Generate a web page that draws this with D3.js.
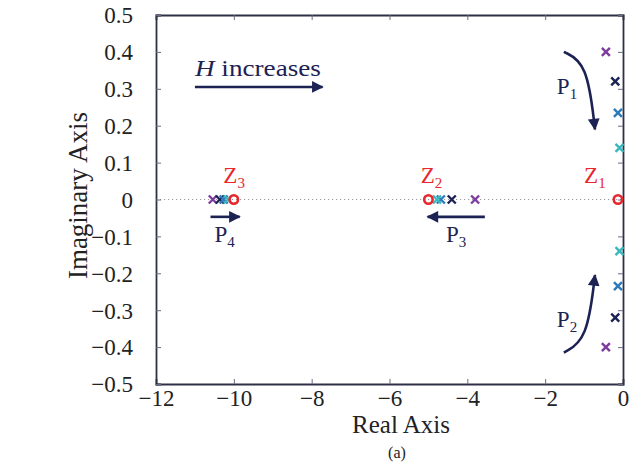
<!DOCTYPE html>
<html>
<head>
<meta charset="utf-8">
<script src="https://cdn.jsdelivr.net/npm/d3@7"></script>
<style>
  html, body { margin: 0; padding: 0; background: #fff; }
  svg { display: block; }
  text { font-family: "Liberation Serif", "Times New Roman", serif; }
</style>
</head>
<body>
<svg id="chart" width="643" height="466"></svg>
<script>
// Root-locus style pole/zero map: four gain steps (H increasing)
const xTicks = [-12, -10, -8, -6, -4, -2, 0];
const yTicks = [0.5, 0.4, 0.3, 0.2, 0.1, 0, -0.1, -0.2, -0.3, -0.4, -0.5];

// zeros (real, imag) and their names
const zeroRe = [-0.13, -5.0, -10.0];
const zeroIm = [0, 0, 0];
const zeroNames = ["1", "2", "3"];

// pole branches, one value per H step (low H -> high H)
const p1Re = [-0.44, -0.20, -0.13, -0.09];
const p1Im = [0.40, 0.32, 0.235, 0.14];
const p2Re = [-0.44, -0.20, -0.13, -0.09];
const p2Im = [-0.40, -0.32, -0.235, -0.14];
const p3Re = [-3.80, -4.40, -4.68, -4.78];
const p3Im = [0, 0, 0, 0];
const p4Re = [-10.54, -10.36, -10.26, -10.15];
const p4Im = [0, 0, 0, 0];

const stepColors = ["#7d3b9e", "#1c2354", "#2f7ab8", "#38b8bf"];
const ink = "#1c2354";
const zeroColor = "#e8262c";

const svg = d3.select("#chart");
const margin = { left: 156, right: 20, top: 15, bottom: 82 };
const W = 643, H = 466;

const x = d3.scaleLinear().domain([-12, 0]).range([margin.left, W - margin.right]);
const y = d3.scaleLinear().domain([-0.5, 0.5]).range([H - margin.bottom, margin.top]);

// dotted zero line
svg.append("line")
  .attr("x1", x(-12)).attr("x2", x(0))
  .attr("y1", y(0)).attr("y2", y(0))
  .attr("stroke", "#9a9a9a").attr("stroke-width", 1)
  .attr("stroke-dasharray", "1.2,2.8");

// axes (inward ticks on all sides)
const fmtY = d => d === 0 ? "0" : d3.format(".1f")(d).replace("-", "\u2212");
const fmtX = d => String(d).replace("-", "\u2212");

const axB = svg.append("g").attr("transform", `translate(0,${y(-0.5)})`)
  .call(d3.axisBottom(x).tickValues(xTicks).tickSize(-5).tickPadding(6).tickFormat(fmtX));
const axT = svg.append("g").attr("transform", `translate(0,${y(0.5)})`)
  .call(d3.axisTop(x).tickValues(xTicks).tickSize(-5).tickFormat(""));
const axL = svg.append("g").attr("transform", `translate(${x(-12)},0)`)
  .call(d3.axisLeft(y).tickValues(yTicks).tickSize(-5).tickPadding(23).tickFormat(fmtY));
const axR = svg.append("g").attr("transform", `translate(${x(0)},0)`)
  .call(d3.axisRight(y).tickValues(yTicks).tickSize(-5).tickFormat(""));

[axB, axT, axL, axR].forEach(g => {
  g.select(".domain").attr("stroke", "#2e3048").attr("stroke-width", 1.8);
  g.selectAll(".tick line").attr("stroke", "#6a6c80").attr("stroke-width", 1);
  g.selectAll(".tick text").attr("fill", "#222").style("font-size", "23px")
    .style("font-family", "'Liberation Serif', serif");
});
axB.selectAll(".tick text").attr("dy", "0.71em");
axL.selectAll(".tick text").attr("dy", "0.34em");

// axis titles
svg.append("text")
  .attr("x", 401).attr("y", 433)
  .attr("text-anchor", "middle").attr("fill", "#222")
  .style("font-size", "25px").text("Real Axis");
svg.append("text")
  .attr("transform", `translate(87,${y(0) - 4}) rotate(-90)`)
  .attr("text-anchor", "middle").attr("fill", "#222")
  .style("font-size", "27px").text("Imaginary Axis");
svg.append("text")
  .attr("x", 397).attr("y", 458)
  .attr("text-anchor", "middle").attr("fill", "#222")
  .style("font-size", "16px").text("(a)");

// arrowhead marker
const defs = svg.append("defs");
defs.append("marker")
  .attr("id", "head").attr("viewBox", "0 0 10 10")
  .attr("refX", 9).attr("refY", 5)
  .attr("markerWidth", 5).attr("markerHeight", 4.5)
  .attr("markerUnits", "strokeWidth").attr("orient", "auto")
  .append("path").attr("d", "M0,0 L10,5 L0,10 Z").attr("fill", ink);

// pole markers (x)
const branches = [[p1Re, p1Im], [p2Re, p2Im], [p3Re, p3Im], [p4Re, p4Im]];
const s = 4;
branches.forEach(([re, im]) => {
  re.forEach((r, i) => {
    const cx = x(r), cy = y(im[i]);
    svg.append("path")
      .attr("d", `M${cx - s},${cy - s}L${cx + s},${cy + s}M${cx - s},${cy + s}L${cx + s},${cy - s}`)
      .attr("stroke", stepColors[i]).attr("stroke-width", 2.4)
      .attr("fill", "none");
  });
});

// zero markers (o)
zeroRe.forEach((r, i) => {
  svg.append("circle")
    .attr("cx", x(r)).attr("cy", y(zeroIm[i])).attr("r", 4.2)
    .attr("fill", "none").attr("stroke", zeroColor).attr("stroke-width", 2.6);
});

// labels with subscripts
function subLabel(px, py, main, sub, color) {
  const t = svg.append("text").attr("x", px).attr("y", py)
    .attr("fill", color).style("font-size", "23px");
  t.append("tspan").text(main);
  t.append("tspan").attr("dy", 5).style("font-size", "15px").text(sub);
}
const zeroLabelPos = [[-1.0, 0.045], [-5.2, 0.045], [-10.27, 0.045]];
zeroNames.forEach((n, i) => {
  subLabel(x(zeroLabelPos[i][0]), y(zeroLabelPos[i][1]), "Z", n, zeroColor);
});
subLabel(x(-1.7), y(0.285), "P", "1", ink);
subLabel(x(-1.7), y(-0.345), "P", "2", ink);
subLabel(x(-4.55), y(-0.115), "P", "3", ink);
subLabel(x(-10.5), y(-0.115), "P", "4", ink);

// movement arrows
function arrow(pts, curved) {
  const line = curved ? d3.line().curve(d3.curveBasis) : d3.line();
  svg.append("path")
    .attr("d", line(pts.map(p => [x(p[0]), y(p[1])])))
    .attr("fill", "none").attr("stroke", ink).attr("stroke-width", 2.6)
    .attr("marker-end", "url(#head)");
}
arrow([[-1.52, 0.40], [-0.92, 0.37], [-0.72, 0.19]], true);
arrow([[-1.52, -0.415], [-0.92, -0.38], [-0.72, -0.205]], true);
arrow([[-3.55, -0.047], [-5.02, -0.047]], false);
arrow([[-10.6, -0.047], [-9.85, -0.047]], false);
arrow([[-11.0, 0.305], [-7.72, 0.305]], false);

// H increases
const ht = svg.append("text").attr("x", x(-11.0)).attr("y", y(0.335))
  .attr("fill", ink).style("font-size", "23px")
  .attr("textLength", 126).attr("lengthAdjust", "spacingAndGlyphs");
ht.append("tspan").style("font-style", "italic").text("H");
ht.append("tspan").text(" increases");
</script>
</body>
</html>
